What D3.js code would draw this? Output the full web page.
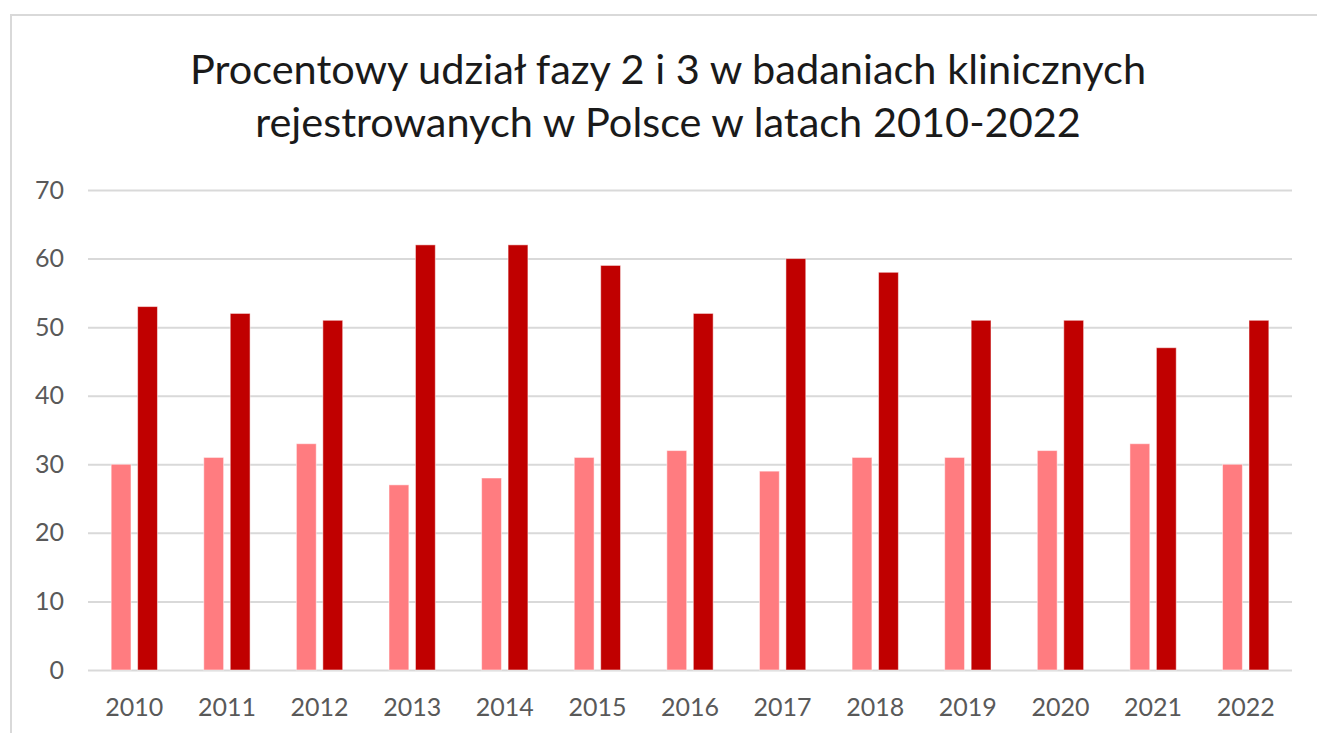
<!DOCTYPE html>
<html><head><meta charset="utf-8">
<script src="https://cdn.jsdelivr.net/npm/d3@7"></script>
<style>html,body{margin:0;padding:0;background:#fff;overflow:hidden}</style>
</head><body>
<svg id="c" width="1317" height="733"></svg>
<script>
const years = ["2010","2011","2012","2013","2014","2015","2016","2017","2018","2019","2020","2021","2022"];
const phase2 = [30,31,33,27,28,31,32,29,31,31,32,33,30];
const phase3 = [53,52,51,62,62,59,52,60,58,51,51,47,51];
const yTicks = [0,10,20,30,40,50,60,70];
const seriesNames = ["Faza 2","Faza 3"];
const seriesColors = ["#FF7C80","#C00000"];
const titleLines = ["Procentowy udział fazy 2 i 3 w badaniach klinicznych","rejestrowanych w Polsce w latach 2010-2022"];

const font = "Lato, 'Open Sans', sans-serif";
const svg = d3.select("#c");

// chart border
svg.append("rect").attr("x",11).attr("y",15).attr("width",1330).attr("height",740)
  .attr("fill","#fff").attr("stroke","#d9d9d9").attr("stroke-width",2);

const x0 = d3.scaleBand().domain(years).range([88,1292]).paddingInner(0.5).paddingOuter(0.25);
const x1 = d3.scaleBand().domain(seriesNames).range([0,x0.bandwidth()]).paddingInner(0.25);
const y = d3.scaleLinear().domain([0,70]).range([670,190]);

// gridlines
const yAxis = d3.axisLeft(y).tickValues(yTicks).tickSize(-(1292-88)).tickPadding(24);
const gy = svg.append("g").attr("transform","translate(88,0)").call(yAxis);
gy.select(".domain").remove();
gy.selectAll(".tick line").attr("stroke","#d9d9d9").attr("stroke-width",2);
gy.selectAll(".tick text").attr("fill","#595959").style("font-family",font).style("font-size","25px");

// x axis labels
const xAxis = d3.axisBottom(x0).tickSize(0).tickPadding(28);
const gx = svg.append("g").attr("transform","translate(0,670)").call(xAxis);
gx.select(".domain").remove();
gx.selectAll(".tick text").attr("fill","#595959").style("font-family",font).style("font-size","25px");

// bars
const data = years.map((yr,i)=>({year:yr, vals:[phase2[i],phase3[i]]}));
const groups = svg.append("g").selectAll("g").data(data).join("g")
  .attr("transform",d=>`translate(${x0(d.year)},0)`);
groups.selectAll("rect").data(d=>d.vals.map((v,j)=>({v,s:seriesNames[j],c:seriesColors[j]})))
  .join("rect")
  .attr("x",d=>x1(d.s)).attr("width",x1.bandwidth())
  .attr("y",d=>y(d.v)).attr("height",d=>y(0)-y(d.v))
  .attr("fill",d=>d.c).attr("stroke","#ffffff").attr("stroke-opacity",0.5).attr("stroke-width",1);

// title
const t = svg.append("text").attr("text-anchor","middle").attr("fill","#1a1a1a")
  .style("font-family",font).style("font-size","41.5px");
titleLines.forEach((l,i)=>{
  t.append("tspan").attr("x",668).attr("y",84+i*53).text(l);
});
</script>
</body></html>
